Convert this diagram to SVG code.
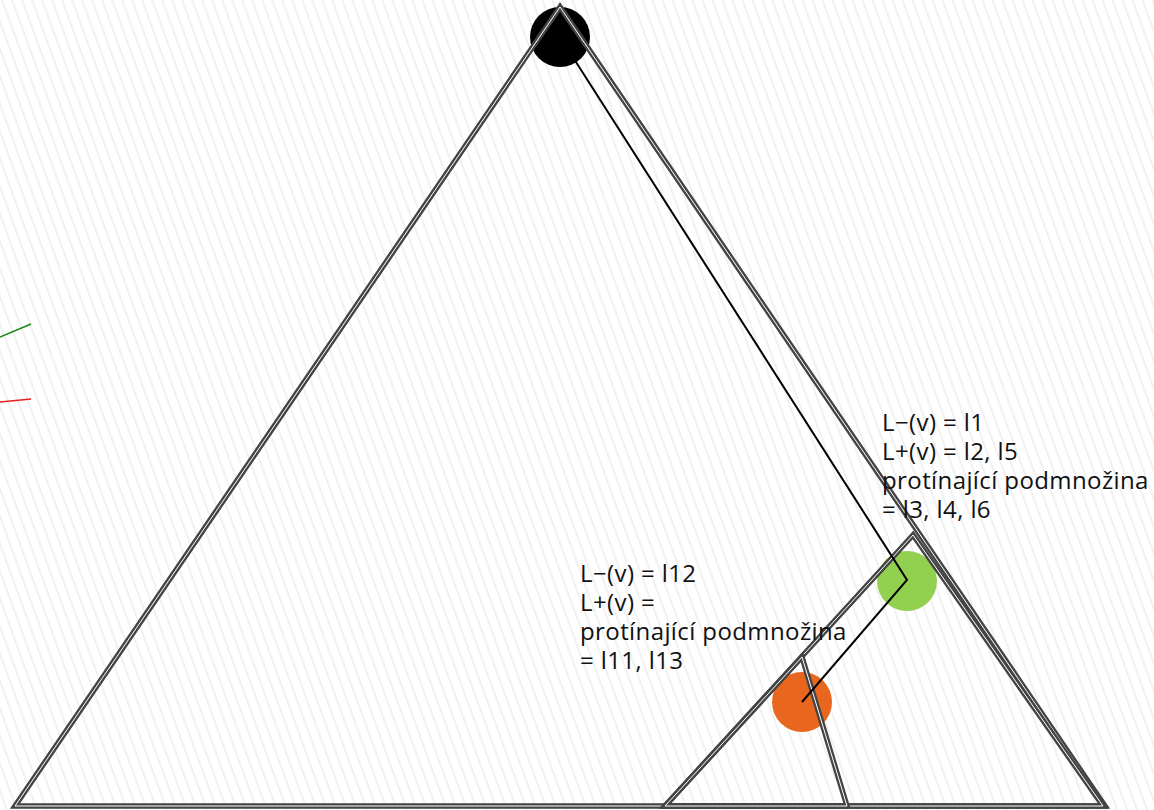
<svg xmlns="http://www.w3.org/2000/svg" width="1154" height="810" viewBox="0 0 1154 810">
  <defs>
    <pattern id="stripes" patternUnits="userSpaceOnUse" width="9.4" height="20" patternTransform="rotate(-20)">
      <rect width="9.4" height="20" fill="#ffffff"/>
      <line x1="2" y1="0" x2="2" y2="20" stroke="#f0f0f0" stroke-width="1.8"/>
    </pattern>
    <style>
      .tri { fill: none; stroke-linejoin: miter; }
      .tri-out { stroke: #444444; stroke-width: 5.5; }
      .tri-in { stroke: #ffffff; stroke-width: 1; }
      .label { font-family: "Open Sans", "Noto Sans", "DejaVu Sans", sans-serif; font-size: 24px; letter-spacing: 0.4px; fill: #111111; }
      .edge { fill: none; stroke: #000000; stroke-width: 2; stroke-linejoin: miter; }
    </style>
  </defs>

  <!-- hatched background -->
  <rect x="0" y="0" width="1154" height="810" fill="url(#stripes)"/>

  <!-- legend stubs at the left margin -->
  <g id="legend">
    <line x1="0" y1="337" x2="31" y2="324" stroke="#1a8a1a" stroke-width="1.5"/>
    <line x1="0" y1="402" x2="31" y2="399" stroke="#e82020" stroke-width="1.5"/>
  </g>

  <!-- vertices -->
  <g id="node-root">
    <circle cx="560" cy="37" r="30" fill="#000000"/>
  </g>
  <g id="node-green">
    <circle cx="907" cy="581" r="30" fill="#92d050"/>
  </g>
  <g id="node-orange">
    <circle cx="802" cy="702" r="30" fill="#e9661e"/>
  </g>

  <!-- subtrees drawn as triangles -->
  <g id="subtrees">
    <g id="subtree-root">
      <polygon class="tri tri-out" points="560,7 15,806 1105,806"/>
      <polygon class="tri tri-in" points="560,7 15,806 1105,806"/>
    </g>
    <g id="subtree-green">
      <polygon class="tri tri-out" points="913,535 665,806 1103,806"/>
      <polygon class="tri tri-in" points="913,535 665,806 1103,806"/>
    </g>
    <g id="subtree-orange">
      <polygon class="tri tri-out" points="802,657 665,806 847,806"/>
      <polygon class="tri tri-in" points="802,657 665,806 847,806"/>
    </g>
  </g>

  <!-- path between the vertices -->
  <g id="connectors">
    <polyline class="edge" points="560,37 907,580 802,702"/>
  </g>

  <!-- vertex labels -->
  <g id="label-green">
    <text class="label" x="882" y="431">L−(v) = l1</text>
    <text class="label" x="882" y="460">L+(v) = l2, l5</text>
    <text class="label" x="882" y="489">protínající podmnožina</text>
    <text class="label" x="882" y="518">= l3, l4, l6</text>
  </g>
  <g id="label-orange">
    <text class="label" x="580" y="582">L−(v) = l12</text>
    <text class="label" x="580" y="611">L+(v) =</text>
    <text class="label" x="580" y="640">protínající podmnožina</text>
    <text class="label" x="580" y="669">= l11, l13</text>
  </g>
</svg>
